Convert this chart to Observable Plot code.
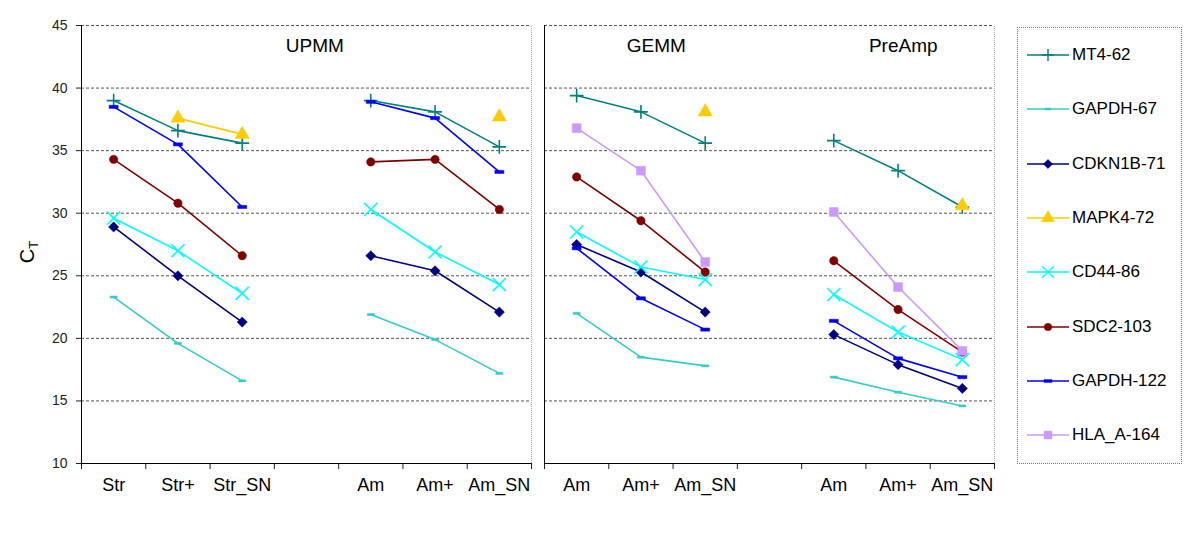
<!DOCTYPE html>
<html><head><meta charset="utf-8">
<script src="https://cdn.jsdelivr.net/npm/d3@7"></script>
<script src="https://cdn.jsdelivr.net/npm/@observablehq/plot@0.6"></script>
<style>
body{margin:0;background:#fff;font-family:"Liberation Sans",Arial,sans-serif;}
#wrap{position:relative;width:1200px;height:540px;}
#chart{position:absolute;left:0;top:0;}
#legend{position:absolute;left:1017px;top:27px;width:165px;height:437px;border:1px dotted #777;box-sizing:border-box;}
.lrow{position:absolute;left:0;height:22px;display:flex;align-items:center;}
.lrow span{font-size:17px;color:#000;margin-left:2px;white-space:nowrap;}
</style></head><body><div id="wrap"><div id="chart"></div><div id="legend"></div></div>
<script>
// ---- data ----
const panels = ["L", "R"];
const slotLabelsL = ["Str", "Str+", "Str_SN", "", "Am", "Am+", "Am_SN"];
const slotLabelsR = ["Am", "Am+", "Am_SN", "", "Am", "Am+", "Am_SN"];
const panelTitles = ["UPMM", "GEMM", "PreAmp"];
const yTicks = [10, 15, 20, 25, 30, 35, 40, 45];
const seriesNames = ["MT4-62", "GAPDH-67", "CDKN1B-71", "MAPK4-72", "CD44-86", "SDC2-103", "GAPDH-122", "HLA_A-164"];

const mt4_62_L    = [39.0, 36.6, 35.6, null, 39.0, 38.1, 35.3];
const mt4_62_R    = [39.4, 38.1, 35.6, null, 35.8, 33.4, 30.5];
const gapdh_67_L  = [23.3, 19.6, 16.6, null, 21.9, 19.9, 17.2];
const gapdh_67_R  = [22.0, 18.5, 17.8, null, 16.9, 15.7, 14.6];
const cdkn1b_71_L = [28.9, 25.0, 21.3, null, 26.6, 25.4, 22.1];
const cdkn1b_71_R = [27.5, 25.3, 22.1, null, 20.3, 17.9, 16.0];
const mapk4_72_L  = [null, 37.6, 36.3, null, null, null, 37.7];
const mapk4_72_R  = [null, null, 38.1, null, null, null, 30.6];
const cd44_86_L   = [29.6, 27.0, 23.6, null, 30.3, 26.9, 24.3];
const cd44_86_R   = [28.5, 25.7, 24.7, null, 23.5, 20.5, 18.3];
const sdc2_103_L  = [34.3, 30.8, 26.6, null, 34.1, 34.3, 30.3];
const sdc2_103_R  = [32.9, 29.4, 25.3, null, 26.2, 22.3, 18.9];
const gapdh_122_L = [38.5, 35.5, 30.5, null, 38.9, 37.6, 33.3];
const gapdh_122_R = [27.2, 23.2, 20.7, null, 21.4, 18.4, 16.9];
const hla_a_164_L = [null, null, null, null, null, null, null];
const hla_a_164_R = [36.8, 33.4, 26.1, null, 30.1, 24.1, 19.0];

// ---- build tables ----
const seriesData = {
  "MT4-62": [mt4_62_L, mt4_62_R],
  "GAPDH-67": [gapdh_67_L, gapdh_67_R],
  "CDKN1B-71": [cdkn1b_71_L, cdkn1b_71_R],
  "MAPK4-72": [mapk4_72_L, mapk4_72_R],
  "CD44-86": [cd44_86_L, cd44_86_R],
  "SDC2-103": [sdc2_103_L, sdc2_103_R],
  "GAPDH-122": [gapdh_122_L, gapdh_122_R],
  "HLA_A-164": [hla_a_164_L, hla_a_164_R]
};
const dashThin = {draw(ctx, size){const r = Math.sqrt(size/Math.PI); ctx.rect(-r, -r*0.3, 2*r, r*0.6);}};
const dashBold = {draw(ctx, size){const r = Math.sqrt(size/Math.PI); ctx.rect(-r, -r*0.35, 2*r, r*0.7);}};
const styles = {
  "MT4-62":    {color:"#008080", symbol:d3.symbolPlus, r:4.5, filled:false},
  "GAPDH-67":  {color:"#33CCCC", symbol:dashThin, r:3.5, filled:true},
  "CDKN1B-71": {color:"#000080", symbol:d3.symbolDiamond2, r:4.6, filled:true},
  "MAPK4-72":  {color:"#FFCC00", symbol:d3.symbolTriangle, r:5.3, filled:true},
  "CD44-86":   {color:"#00FFFF", symbol:d3.symbolTimes, r:6, filled:false},
  "SDC2-103":  {color:"#800000", symbol:d3.symbolCircle, r:4.2, filled:true},
  "GAPDH-122": {color:"#0000FF", symbol:dashBold, r:4.5, filled:true},
  "HLA_A-164": {color:"#CC99FF", symbol:d3.symbolSquare, r:5, filled:true}
};
const rows = [];
seriesNames.forEach(name => {
  seriesData[name].forEach((arr, p) => arr.forEach((v, i) => rows.push({series:name, panel:panels[p], slot:i, value:v})));
});
const labelRows = [];
slotLabelsL.forEach((l, i) => labelRows.push({panel:"L", slot:i, label:l}));
slotLabelsR.forEach((l, i) => labelRows.push({panel:"R", slot:i, label:l}));
const titlePanel = {"UPMM":"L", "GEMM":"R", "PreAmp":"R"};
const titleX = {"UPMM":3.63, "GEMM":1.74, "PreAmp":5.58};
const titleRows = panelTitles.map(t => ({title:t, panel:titlePanel[t]}));

const marks = [
  Plot.ruleY(yTicks.filter(t => t > 10), {stroke:"#555", strokeDasharray:"3,2"}),
  Plot.ruleX([7], {y1:10, y2:45, stroke:"#aaa", strokeDasharray:"1,1"}),
  Plot.ruleY([10], {stroke:"#000"}),
  Plot.ruleX([0], {y1:10, y2:45, stroke:"#000"})
];
seriesNames.forEach(name => {
  const s = styles[name];
  const data = rows.filter(d => d.series === name);
  marks.push(Plot.line(data, {fx:"panel", x:d => d.slot + 0.5, y:"value", stroke:s.color, strokeWidth:1.6}));
  marks.push(Plot.dot(data.filter(d => d.value != null), {
    fx:"panel", x:d => d.slot + 0.5, y:"value", symbol:s.symbol, r:s.r,
    fill: s.filled ? s.color : "none", stroke: s.color, strokeWidth: s.filled ? 0.5 : 1.6
  }));
});
marks.push(Plot.text(labelRows, {fx:"panel", x:d => d.slot + 0.5, frameAnchor:"bottom", dy:27, text:"label", fontSize:18, fill:"#000"}));
marks.push(Plot.text(titleRows, {fx:"panel", x:d => titleX[d.title], y:() => 43.4, text:"title", fontSize:19, fill:"#000"}));

const chart = Plot.plot({
  width: 1000, height: 540,
  marginLeft: 80, marginRight: 5, marginTop: 25, marginBottom: 77,
  fx: {domain: panels, paddingInner: 0.028, paddingOuter: 0, axis: null, label: null},
  x: {domain: [0, 7], ticks: d3.range(8), tickSize: 6, tickFormat: () => "", label: null},
  y: {domain: [10, 45], ticks: yTicks, tickSize: 5, tickPadding: 9, label: null},
  style: {fontFamily: "'Liberation Sans', Arial, sans-serif", fontSize: "14px", color: "#222", background: "white"},
  marks
});
document.getElementById("chart").appendChild(chart);

// y-axis title C_T
const svgSel = d3.select(chart.tagName.toLowerCase() === "svg" ? chart : chart.querySelector("svg"));
const yl = svgSel.append("text").attr("transform", "translate(34,252) rotate(-90)")
  .attr("text-anchor", "middle").attr("font-family", "'Liberation Sans', Arial, sans-serif").attr("fill", "#000");
yl.append("tspan").attr("font-size", 20).text("C");
yl.append("tspan").attr("font-size", 13).attr("dy", 4).text("T");

// legend
const leg = d3.select("#legend");
seriesNames.forEach((name, i) => {
  const s = styles[name];
  const row = leg.append("div").attr("class", "lrow").style("top", (16 + i * 54.3) + "px");
  const sv = row.append("svg").attr("width", 52).attr("height", 22);
  sv.append("line").attr("x1", 9).attr("x2", 51).attr("y1", 11).attr("y2", 11).attr("stroke", s.color).attr("stroke-width", 1.6);
  sv.append("path").attr("transform", "translate(30,11)")
    .attr("d", d3.symbol(s.symbol, Math.PI * s.r * s.r * 0.8)())
    .attr("fill", s.filled ? s.color : "none").attr("stroke", s.color).attr("stroke-width", s.filled ? 0.5 : 1.4);
  row.append("span").text(name);
});
</script></body></html>
